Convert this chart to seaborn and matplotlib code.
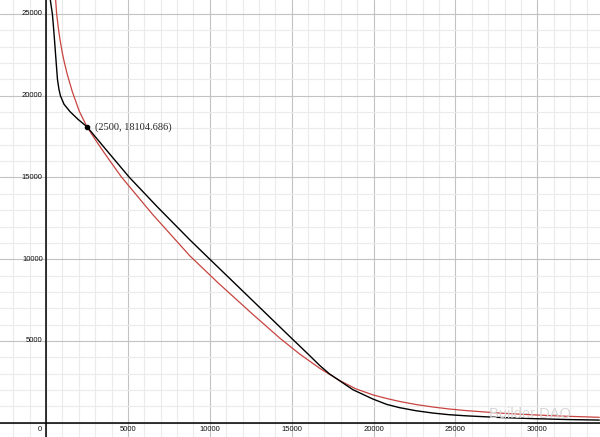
import numpy as np
import pandas as pd
import matplotlib
matplotlib.use("Agg")
import matplotlib.pyplot as plt
import seaborn as sns

# values
black_x = [265, 330, 390, 450, 520, 610, 700, 790, 880, 1100, 1465, 1950, 2500,
           3500, 5080, 6800, 8780, 10000, 12500, 14980, 15488, 16100, 16707,
           17300, 17927, 18740, 19959, 20800, 21585, 22600, 23618, 24600,
           25650, 27683, 29715, 31750, 33780]
black_y = [25855, 25400, 25000, 24300, 23400, 22188, 21000, 20400, 20000,
           19480, 19030, 18560, 18104.686, 16900, 15018, 13200, 11186, 10000,
           7580, 5177, 4690, 4100, 3504, 2990, 2567, 2017, 1447, 1120, 920,
           730, 590, 490, 420, 320, 250, 195, 160]

red_x = [590, 650, 760, 860, 1000, 1118, 1300, 1606, 2033, 2500, 3000, 3500,
         4000, 4614, 6500, 8780, 10500, 12500, 14268, 15488, 16707, 17927,
         18900, 19959, 20800, 21585, 22600, 23618, 24600, 25650, 27683, 29715,
         31750, 33780]
red_y = [25855, 25000, 24100, 23400, 22600, 22050, 21300, 20250, 19050,
         18104.686, 17330, 16590, 15880, 15018, 12750, 10208, 8560, 6740,
         5177, 4200, 3330, 2580, 2080, 1700, 1480, 1300, 1110, 960, 840, 740,
         590, 480, 395, 330]

point = (2500, 18104.686)
x_ticks = [5000, 10000, 15000, 20000, 25000, 30000]
y_ticks = [5000, 10000, 15000, 20000, 25000]

black_df = pd.DataFrame({"x": black_x, "y": black_y})
red_df = pd.DataFrame({"x": red_x, "y": red_y})

sns.set_style("white")
fig = plt.figure(figsize=(6, 4.37), dpi=100)
ax = fig.add_axes([0, 0, 1, 1])

ax.set_xlim(-2808, 33822)
ax.set_ylim(-875, 25856)

# desmos style grid
ax.set_xticks(np.arange(-2000, 34000, 1000), minor=True)
ax.set_yticks(np.arange(0, 26000, 1000), minor=True)
ax.set_xticks(np.arange(0, 35000, 5000))
ax.set_yticks(np.arange(0, 30000, 5000))
ax.grid(which="minor", color="#ebebeb", lw=0.8)
ax.grid(which="major", color="#c2c2c2", lw=0.8)
ax.set_axisbelow(True)
ax.tick_params(which="both", length=0, labelbottom=False, labelleft=False)
for s in ax.spines.values():
    s.set_visible(False)
ax.axhline(0, color="black", lw=1.1, zorder=2)
ax.axvline(0, color="black", lw=1.1, zorder=2)

sns.lineplot(data=red_df, x="x", y="y", sort=False, estimator=None,
             color="#c74440", lw=0.9, ax=ax, zorder=3)
sns.lineplot(data=black_df, x="x", y="y", sort=False, estimator=None,
             color="black", lw=1.0, ax=ax, zorder=4)
ax.set_xlabel("")
ax.set_ylabel("")

ax.scatter([point[0]], [point[1]], s=9, color="black", zorder=5)
ax.annotate("(2500, 18104.686)", xy=point, xytext=(6, 0), textcoords="offset points",
            va="center", ha="left", fontsize=7.5, family="Liberation Serif")

lab = dict(fontsize=5.5, family="Liberation Sans", color="#111111")
for t in x_ticks:
    ax.annotate(str(t), xy=(t, 0), xytext=(0, -4.8), textcoords="offset points",
                ha="center", va="center", **lab)
for t in y_ticks:
    ax.annotate(str(t), xy=(0, t), xytext=(-2.3, 0), textcoords="offset points",
                ha="right", va="center", **lab)
ax.annotate("0", xy=(0, 0), xytext=(-3, -4.8), textcoords="offset points",
            ha="right", va="center", **lab)

ax.text(0.815, 0.0535, "Builder DAO", transform=ax.transAxes, fontsize=10.5,
        color="#d6d6d6", family="Liberation Sans", va="center", ha="left", zorder=6)

fig.savefig("out.png", dpi=100)
